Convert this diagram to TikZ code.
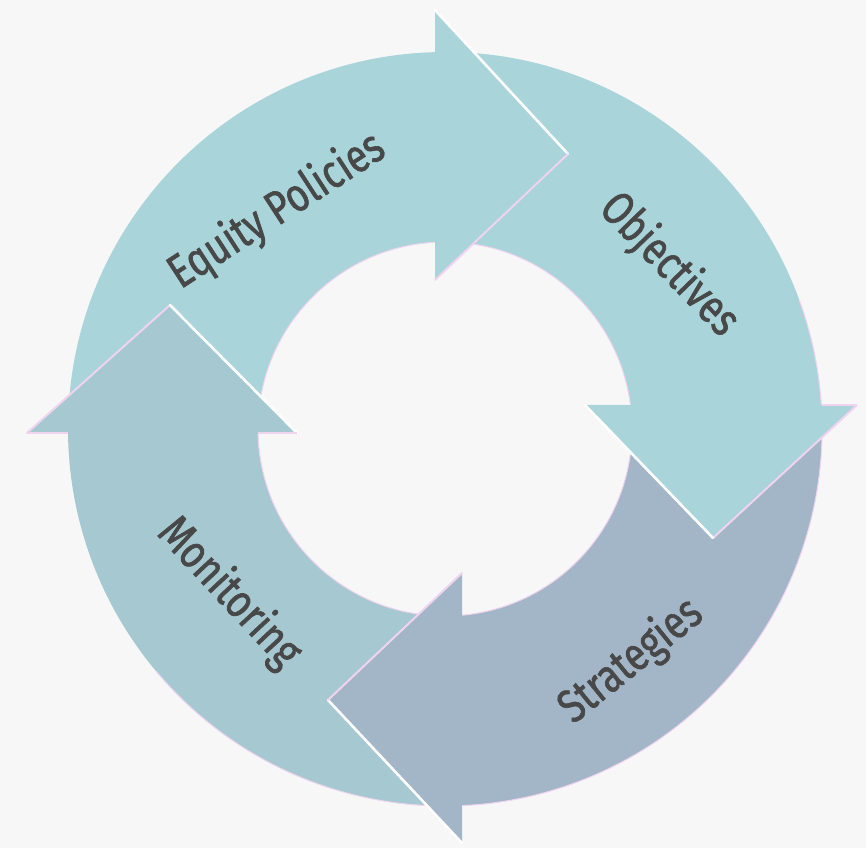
\documentclass[tikz,border=0pt]{standalone}
\usepackage{fontspec}
\setmainfont{Fira Sans}[FakeStretch=0.8, FakeBold=1.3]
\definecolor{bg}{HTML}{F7F7F7}
\definecolor{tealA}{HTML}{A8D4DA}
\definecolor{tealM}{HTML}{A5C8D1}
\definecolor{slateS}{HTML}{A3B6C7}
\definecolor{txt}{HTML}{484848}
\definecolor{glow}{HTML}{EFD3EF}
\begin{document}
\begin{tikzpicture}[x=1pt,y=1pt,
  lbl/.style={font=\fontsize{47}{47}\selectfont, text=txt, inner sep=0pt},
  gapw/.style={draw=white, line width=2.6pt, line cap=round},
  gapp/.style={draw=glow, line width=2pt, line cap=round},
  rim/.style={draw=glow, line width=1pt},
  wing/.style={draw=glow, line width=1.2pt}]
\useasboundingbox (-445,-419) rectangle (421,429);
\fill[bg] (-445,-419) rectangle (421,429);
% bodies
\fill[tealA] (180.61:377) arc[start angle=180.61, end angle=91.52, radius=377] -- (93.07:187) arc[start angle=93.07, end angle=181.23, radius=187] -- cycle;
\fill[tealA] (91.52:377) arc[start angle=91.52, end angle=3.65, radius=377] -- (7.37:187) arc[start angle=7.37, end angle=93.07, radius=187] -- cycle;
\fill[slateS] (3.65:377) arc[start angle=3.65, end angle=-87.42, radius=377] -- (-84.78:187) arc[start angle=-84.78, end angle=7.37, radius=187] -- cycle;
\fill[tealM] (-87.42:377) arc[start angle=-87.42, end angle=-179.39, radius=377] -- (-178.77:187) arc[start angle=-178.77, end angle=-84.78, radius=187] -- cycle;
% rims
\draw[rim] (0,0) circle[radius=187];
\draw[rim] (20:377) arc[start angle=20, end angle=-140, radius=377];
% heads
\fill[tealA] (-10,419) -- (123,275) -- (-10,149) -- cycle;
\fill[tealA] (140,24) -- (268,-109) -- (412,24) -- cycle;
\fill[slateS] (17,-144) -- (-117,-271) -- (17,-414) -- cycle;
\fill[tealM] (-418,-4) -- (-275,124) -- (-148,-4) -- cycle;
% head edges
\draw[gapw] (-10,419) -- (123,275);
\draw[gapp] (123,275) -- (-10,149);
\draw[gapp] (412,24) -- (268,-109);
\draw[gapw] (140,24) -- (268,-109);
\draw[gapw] (17,-414) -- (-117,-271);
\draw[gapp] (17,-144) -- (-117,-271);
\draw[gapp] (-418,-4) -- (-275,124);
\draw[gapw] (-148,-4) -- (-275,124);
% wings
\draw[wing] (-418,-4) -- (-377,-4);
\draw[wing] (-187,-4) -- (-148,-4);
\draw[wing] (377,24) -- (412,24);
% labels
\node[lbl, rotate=33] (t1) at (-168,218) {Equity Policies};
\node[lbl, rotate=-46] (t2) at (224,164) {Objectives};
\node[lbl, rotate=39] (t3) at (186,-232) {Strategies};
\node[lbl, rotate=-47] (t4) at (-216,-164) {Monitoring};
\end{tikzpicture}
\end{document}
